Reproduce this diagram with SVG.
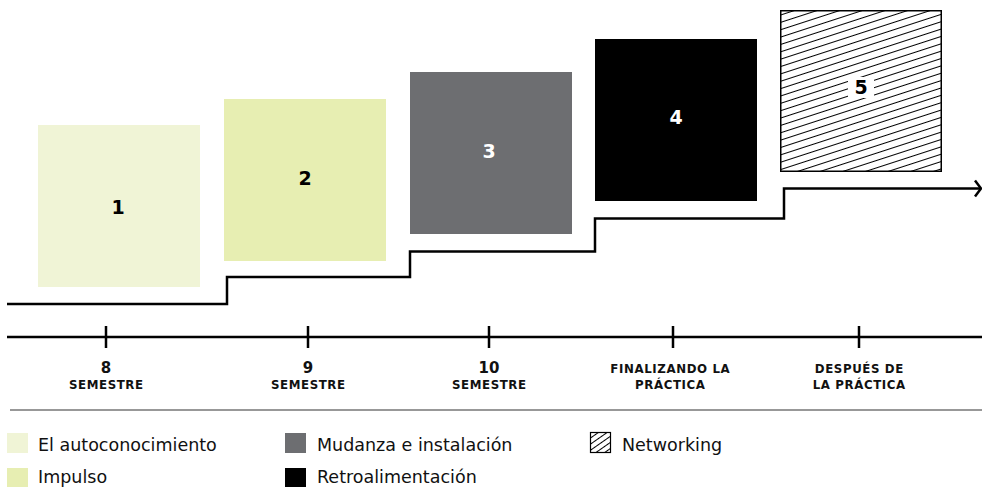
<svg xmlns="http://www.w3.org/2000/svg" width="982" height="487" viewBox="0 0 982 487">
<style>
.num{font-family:"DejaVu Sans",sans-serif;font-weight:bold;font-size:19px;text-anchor:middle}
.lbl{font-family:"DejaVu Sans",sans-serif;font-weight:bold;font-size:11.8px;letter-spacing:0.6px;text-anchor:middle;fill:#111}
.lblnum{font-family:"DejaVu Sans",sans-serif;font-weight:bold;font-size:15px;text-anchor:middle;fill:#111}
.leg{font-family:"DejaVu Sans",sans-serif;font-size:17.5px;fill:#111}
.ln{fill:none;stroke:#000;stroke-width:2.5}
</style>
<defs>
<pattern id="hatch" patternUnits="userSpaceOnUse" width="7" height="7" patternTransform="rotate(-18)">
<rect width="7" height="7" fill="#fff"/>
<line x1="0" y1="3.5" x2="7" y2="3.5" stroke="#000" stroke-width="1"/>
</pattern>
<pattern id="hatchS" patternUnits="userSpaceOnUse" width="5" height="5" patternTransform="rotate(-35)">
<rect width="5" height="5" fill="#fff"/>
<line x1="0" y1="2.5" x2="5" y2="2.5" stroke="#000" stroke-width="1"/>
</pattern>
</defs>
<g id="connectors">
<path class="ln" d="M7,304 H227 V277 H410 V251.5 H595 V218.5 H784 V188.5 H980"/>
<path class="ln" d="M975,180.5 L981,188.5 L975,196.5" stroke-width="2"/>
<line class="ln" x1="7" y1="337" x2="982" y2="337"/>
<line x1="10" y1="410" x2="982" y2="410" stroke="#333" stroke-width="1.2"/>
</g>
<g id="node1"><rect x="38" y="125" width="162" height="162" fill="#F0F4D6"/><text class="num" x="118" y="214" fill="#000">1</text></g>
<g id="node2"><rect x="224" y="99" width="162" height="162" fill="#E7EEB2"/><text class="num" x="305" y="185" fill="#000">2</text></g>
<g id="node3"><rect x="410" y="72" width="162" height="162" fill="#6D6E71"/><text class="num" x="489" y="158" fill="#fff">3</text></g>
<g id="node4"><rect x="595" y="39" width="162" height="162" fill="#000"/><text class="num" x="676" y="124" fill="#fff">4</text></g>
<g id="node5"><rect x="780.75" y="10.75" width="160.5" height="160.5" fill="url(#hatch)" stroke="#000" stroke-width="1.5"/><rect x="848" y="77" width="26" height="21" fill="#fff"/><text class="num" x="861" y="94" fill="#000">5</text></g>
<g id="ticks">
<g id="t1"><line class="ln" x1="106" y1="326" x2="106" y2="348"/><text class="lblnum" x="106" y="373">8</text><text class="lbl" x="106.3" y="388.5">SEMESTRE</text></g>
<g id="t2"><line class="ln" x1="308" y1="326" x2="308" y2="348"/><text class="lblnum" x="308" y="373">9</text><text class="lbl" x="308.3" y="388.5">SEMESTRE</text></g>
<g id="t3"><line class="ln" x1="489" y1="326" x2="489" y2="348"/><text class="lblnum" x="489" y="373">10</text><text class="lbl" x="489.3" y="388.5">SEMESTRE</text></g>
<g id="t4"><line class="ln" x1="673" y1="326" x2="673" y2="348"/><text class="lbl" x="670.3" y="373">FINALIZANDO LA</text><text class="lbl" x="670.3" y="388.5">PRÁCTICA</text></g>
<g id="t5"><line class="ln" x1="859" y1="326" x2="859" y2="348"/><text class="lbl" x="859.3" y="373">DESPUÉS DE</text><text class="lbl" x="859.3" y="388.5">LA PRÁCTICA</text></g>
</g>
<g id="legend">
<g id="leg1"><rect x="7" y="433" width="21" height="20" fill="#F0F4D6"/><text class="leg" x="38" y="451">El autoconocimiento</text></g>
<g id="leg2"><rect x="7" y="468" width="21" height="20" fill="#E7EEB2"/><text class="leg" x="38" y="482.5">Impulso</text></g>
<g id="leg3"><rect x="285" y="433" width="21" height="20" fill="#6D6E71"/><text class="leg" x="317" y="451">Mudanza e instalación</text></g>
<g id="leg4"><rect x="285" y="468" width="21" height="20" fill="#000"/><text class="leg" x="317" y="482.5">Retroalimentación</text></g>
<g id="leg5"><rect x="590.5" y="432.5" width="20" height="20" fill="url(#hatchS)" stroke="#000" stroke-width="1.2"/><text class="leg" x="622" y="451">Networking</text></g>
</g>
</svg>
